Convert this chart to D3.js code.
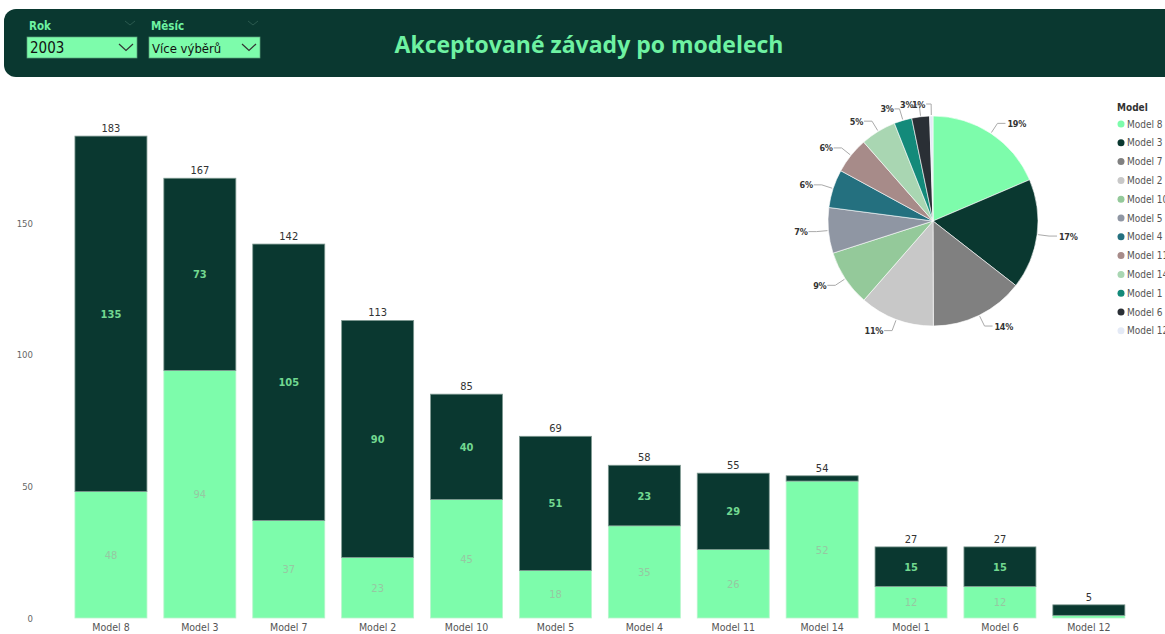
<!DOCTYPE html>
<html>
<head>
<meta charset="utf-8">
<script src="https://cdn.jsdelivr.net/npm/d3@7"></script>
<style>
html,body{margin:0;padding:0;background:#fff;}
svg{display:block;}
</style>
</head>
<body>
<svg id="c" width="1165" height="634"></svg>
<script>
// ---- data ----
const models = ["Model 8","Model 3","Model 7","Model 2","Model 10","Model 5","Model 4","Model 11","Model 14","Model 1","Model 6","Model 12"];
const lightValues = [48,94,37,23,45,18,35,26,52,12,12,1];
const darkValues  = [135,73,105,90,40,51,23,29,2,15,15,4];
const yTicks = [0,50,100,150];
const pieColors = ["#7dfcab","#0a3830","#808080","#c8c8c8","#94c99a","#8f96a3","#24707f","#a78b89","#a9d6b2","#138a7a","#2a2f35","#e4eaf6"];
const title = "Akceptované závady po modelech";
const slicers = [{label:"Rok", value:"2003"},{label:"Měsíc", value:"Více výběrů"}];

const svg = d3.select("#c");
const FONT = "'DejaVu Sans Condensed', 'DejaVu Sans', sans-serif";
const DARK = "#0a3830", LIGHT = "#7dfcab";

// ---- header ----
svg.append("rect").attr("x",4).attr("y",9).attr("width",1175).attr("height",68).attr("rx",12).attr("fill","#0a3830");
svg.append("text").attr("x",589).attr("y",53).attr("text-anchor","middle")
  .attr("font-family","'Open Sans', sans-serif").attr("font-weight","bold").attr("font-size",23)
  .attr("fill","#6ef2a2").text(title);

const slX = [27,149], slW = [110,111];
slicers.forEach((s,i)=>{
  const g = svg.append("g").attr("transform",`translate(${slX[i]},0)`);
  g.append("text").attr("x",2).attr("y",30).attr("font-family",FONT).attr("font-weight","bold")
    .attr("font-size",11.5).attr("fill","#6ef2a2").text(s.label);
  g.append("path").attr("d",`M${slW[i]-12},21 l5,4 l5,-4`).attr("fill","none").attr("stroke","#2b5a4f").attr("stroke-width",1);
  g.append("rect").attr("x",0).attr("y",37).attr("width",slW[i]).attr("height",21)
    .attr("fill",LIGHT).attr("stroke","#5aa07a").attr("stroke-width",0.7);
  g.append("text").attr("x",3).attr("y",53).attr("font-family",FONT)
    .attr("font-size",i===0?15:13).attr("fill","#111").text(s.value);
  g.append("path").attr("d",`M${slW[i]-18},44 l7,6.5 l7,-6.5`).attr("fill","none").attr("stroke","#333").attr("stroke-width",1.2);
});

// ---- bar chart ----
const x = d3.scaleBand().domain(models).range([66.5,1133.3]).paddingInner(0.19).paddingOuter(0.095);
const y = d3.scaleLinear().domain([0,150]).range([618,223]);

const yAxis = svg.append("g").attr("transform","translate(33,0)")
  .call(d3.axisLeft(y).tickValues(yTicks).tickSize(0).tickPadding(0));
yAxis.select(".domain").remove();
yAxis.selectAll("text").attr("font-family",FONT).attr("font-size",9.5).attr("fill","#666");

const stackData = models.map((m,i)=>({model:m, light:lightValues[i], dark:darkValues[i]}));
const series = d3.stack().keys(["light","dark"])(stackData);

const bars = svg.append("g");
series.forEach(s=>{
  bars.selectAll(null).data(s).enter().append("rect")
    .attr("x",d=>x(d.data.model)).attr("width",x.bandwidth())
    .attr("y",d=>y(d[1])).attr("height",d=>y(d[0])-y(d[1]))
    .attr("fill",s.key==="light"?LIGHT:DARK)
    .attr("stroke",s.key==="light"?"#b8f5cc":"#7f9a92").attr("stroke-width",0.8);
  bars.selectAll(null).data(s.filter(d=>(d[1]-d[0])>=10)).enter().append("text")
    .attr("x",d=>x(d.data.model)+x.bandwidth()/2)
    .attr("y",d=>y((d[0]+d[1])/2)+4)
    .attr("text-anchor","middle").attr("font-family",FONT).attr("font-size",11)
    .attr("font-weight",s.key==="dark"?"bold":"normal")
    .attr("fill",s.key==="light"?"#96c8a2":"#72d890")
    .text(d=>d[1]-d[0]);
});
bars.selectAll(null).data(stackData).enter().append("text")
  .attr("x",d=>x(d.model)+x.bandwidth()/2).attr("y",d=>y(d.light+d.dark)-4)
  .attr("text-anchor","middle").attr("font-family",FONT).attr("font-size",11).attr("fill","#333")
  .text(d=>d.light+d.dark);

const xAxis = svg.append("g").attr("transform","translate(0,619)")
  .call(d3.axisBottom(x).tickSize(0).tickPadding(5));
xAxis.select(".domain").remove();
xAxis.selectAll("text").attr("font-family",FONT).attr("font-size",10.5).attr("fill","#555");

// ---- pie ----
const totals = stackData.map(d=>d.light+d.dark);
const sum = d3.sum(totals);
const cx = 933, cy = 221, R = 105;
const pie = d3.pie().sort(null).value(d=>d)(totals);
const arc = d3.arc().innerRadius(0).outerRadius(R);
const pg = svg.append("g").attr("transform",`translate(${cx},${cy})`);
pg.selectAll("path").data(pie).enter().append("path")
  .attr("d",arc).attr("fill",(d,i)=>pieColors[i]).attr("stroke","#fff").attr("stroke-width",0.6);
const fmt = d3.format(".0%");
pie.forEach((d,i)=>{
  const a = (d.startAngle+d.endAngle)/2;
  const sx = Math.sin(a), sy = -Math.cos(a);
  const small = Math.abs(a) < 0.5 || Math.abs(a - 2*Math.PI) < 0.5;
  const p1 = [sx*(R+1), sy*(R+1)];
  const p2 = [sx*(R+12), sy*(R+12)];
  const right = sx >= 0 && i < 6;
  const hl = small ? 5 : 8;
  const p3 = [p2[0] + (right?hl:-hl), p2[1]];
  pg.append("polyline").attr("points",[p1,p2,p3].map(p=>p.join(",")).join(" "))
    .attr("fill","none").attr("stroke","#aaa").attr("stroke-width",1);
  pg.append("text").attr("x",p3[0]+(right?2:-1)).attr("y",p3[1]+3.5)
    .attr("text-anchor",right?"start":"end").attr("font-family",FONT).attr("font-size",9)
    .attr("font-weight","bold").attr("fill","#333").attr("letter-spacing",-0.3).text(fmt(totals[i]/sum));
});

// ---- legend ----
const lg = svg.append("g").attr("transform","translate(1117,0)");
lg.append("text").attr("x",0).attr("y",111).attr("font-family",FONT).attr("font-weight","bold")
  .attr("font-size",10).attr("fill","#333").text("Model");
models.forEach((m,i)=>{
  const yy = 124 + i*18.8;
  lg.append("circle").attr("cx",4).attr("cy",yy).attr("r",3.5).attr("fill",pieColors[i]);
  lg.append("text").attr("x",10).attr("y",yy+3.5).attr("font-family",FONT).attr("font-size",10)
    .attr("fill","#555").text(m);
});
</script>
</body>
</html>
